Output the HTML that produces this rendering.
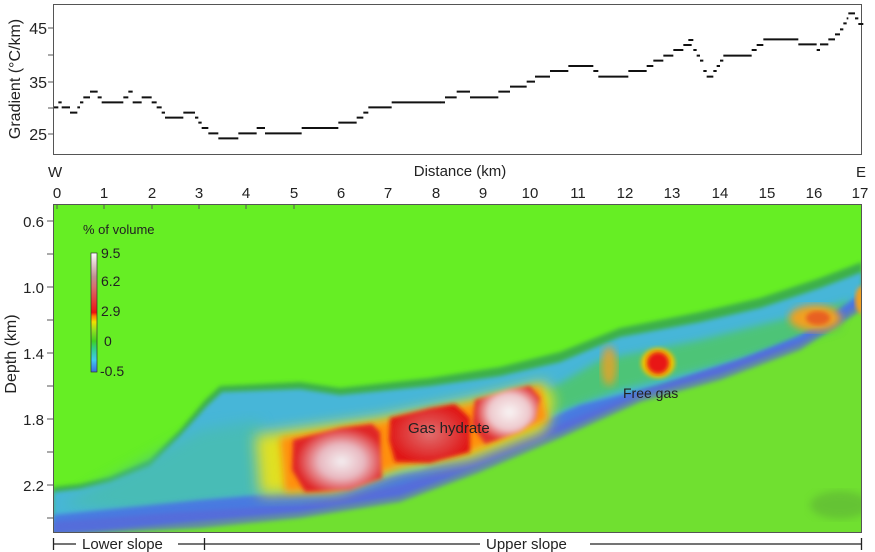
<!DOCTYPE html>
<html><head><meta charset="utf-8"><style>
html,body{margin:0;padding:0;background:#fff}
svg{display:block;font-family:"Liberation Sans",Arial,sans-serif}
</style></head><body>
<svg width="875" height="552" viewBox="0 0 875 552" xmlns="http://www.w3.org/2000/svg">
<defs>
<filter id="b2"><feGaussianBlur stdDeviation="2"/></filter>
<filter id="b4"><feGaussianBlur stdDeviation="4"/></filter>
<filter id="b7"><feGaussianBlur stdDeviation="7"/></filter>
<clipPath id="pc"><rect x="53" y="204" width="809" height="329"/></clipPath>
<linearGradient id="cb" x1="0" y1="1" x2="0" y2="0">
<stop offset="0" stop-color="#3a6ae0"/><stop offset="0.1" stop-color="#40c8f0"/><stop offset="0.2" stop-color="#30d080"/><stop offset="0.26" stop-color="#40d020"/>
<stop offset="0.35" stop-color="#90e020"/><stop offset="0.42" stop-color="#f0e000"/><stop offset="0.47" stop-color="#ff8000"/><stop offset="0.5" stop-color="#ee1010"/>
<stop offset="0.72" stop-color="#d87070"/><stop offset="0.8" stop-color="#c09090"/><stop offset="1" stop-color="#ffffff"/>
</linearGradient>
<radialGradient id="w1" cx="0.55" cy="0.55" r="0.5"><stop offset="0" stop-color="#f4eef0"/><stop offset="0.5" stop-color="#e8b8c0"/><stop offset="1" stop-color="#e02828"/></radialGradient>
<radialGradient id="w2" cx="0.5" cy="0.5" r="0.5"><stop offset="0" stop-color="#e07070"/><stop offset="1" stop-color="#e01818"/></radialGradient>
<radialGradient id="w3" cx="0.55" cy="0.45" r="0.5"><stop offset="0" stop-color="#f8f4f4"/><stop offset="0.6" stop-color="#eec8cc"/><stop offset="1" stop-color="#e03030"/></radialGradient>
</defs>

<!-- top chart -->
<rect x="53.5" y="4.5" width="808" height="150" fill="#fff" stroke="#555" stroke-width="1"/>
<g font-size="16" fill="#222" text-anchor="end">
<text x="47" y="34">45</text><text x="47" y="88">35</text><text x="47" y="140">25</text>
</g>
<g stroke="#555"><line x1="48" y1="28" x2="53" y2="28"/><line x1="48" y1="55" x2="53" y2="55"/><line x1="48" y1="82" x2="53" y2="82"/><line x1="48" y1="108" x2="53" y2="108"/><line x1="48" y1="134" x2="53" y2="134"/></g>
<text transform="translate(20,79) rotate(-90)" font-size="16" fill="#222" text-anchor="middle">Gradient (°C/km)</text>
<g transform="scale(0.33333)" stroke="#111" stroke-width="6" fill="none">
<path d="M162 322H175M175 307H185M185 322H210M210 338H232M232 322H240M240 307H250M250 292H270M270 275H293M293 292H305M305 307H370M370 292H385M385 275H398M398 307H425M425 292H455M455 307H470M470 322H485M485 338H495M495 353H550M550 338H585M585 353H595M595 368H605M605 384H625M625 400H655M655 415H715M715 400H770M770 384H795M795 400H905M905 384H1015M1015 368H1070M1070 353H1090M1090 338H1105M1105 322H1175M1175 307H1322"/>
</g>
<g transform="translate(440,0) scale(0.33333)" stroke="#111" stroke-width="6" fill="none">
<path d="M0 307H15M15 292H50M50 275H90M90 292H175M175 275H210M210 260H260M260 245H285M285 230H330M330 213H385M385 198H460M460 213H475M475 230H565M565 213H620M620 198H640M640 182H670M670 167H700M700 150H730M730 135H755M745 120H760M760 150H770M770 167H780M780 182H790M790 213H800M800 230H820M820 213H830M830 198H840M840 182H850M850 167H935M935 150H950M950 135H970M970 118H1075M1075 133H1130M1130 150H1140M1140 133H1165M1165 118H1185M1185 103H1200M1200 88H1210M1210 70H1220M1220 55H1225M1225 40H1245M1245 55H1255M1255 72H1270"/>
</g>

<!-- x axis labels -->
<g font-size="15" fill="#222">
<text x="48" y="177">W</text><text x="856" y="177">E</text>
<text x="460" y="176" text-anchor="middle">Distance (km)</text>
</g>
<g font-size="15" fill="#222" text-anchor="middle">
<text x="57" y="198">0</text><text x="104" y="198">1</text><text x="152" y="198">2</text><text x="199" y="198">3</text><text x="246" y="198">4</text><text x="294" y="198">5</text><text x="341" y="198">6</text><text x="388" y="198">7</text><text x="436" y="198">8</text><text x="483" y="198">9</text><text x="530" y="198">10</text><text x="578" y="198">11</text><text x="625" y="198">12</text><text x="672" y="198">13</text><text x="720" y="198">14</text><text x="767" y="198">15</text><text x="814" y="198">16</text><text x="860" y="198">17</text>
</g>

<!-- bottom panel -->
<g clip-path="url(#pc)">
<rect x="53" y="204" width="809" height="329" fill="#66ee24"/>
<!-- lower sediment base textured green -->
<polygon points="53,530 300,505 560,420 862,290 862,533 53,533" fill="#70e030"/>
<!-- dark edge of seafloor -->
<polygon points="53,487 80,484 110,477 150,460 180,430 205,400 220,386 300,382 340,388 430,378 500,367 560,352 620,328 700,312 760,298 820,278 862,262 862,300 800,340 720,370 640,392 560,428 480,462 400,492 300,508 200,518 100,528 53,533" fill="#3cb048" filter="url(#b2)"/>
<!-- cyan sediment -->
<polygon points="53,492 80,489 110,482 150,466 180,436 207,406 222,392 300,389 340,395 430,386 500,376 560,362 620,337 700,322 760,308 820,288 862,272 862,300 800,340 720,370 640,392 560,428 480,462 400,492 300,508 200,518 100,528 53,533" fill="#46b6d8" filter="url(#b2)"/>
<!-- greenish mid zones in sediment -->
<polygon points="60,505 200,430 260,420 260,500 150,515" fill="#48c0a0" opacity="0.6" filter="url(#b7)"/>
<polygon points="540,395 600,360 700,340 800,315 850,300 840,330 720,365 620,390 550,415" fill="#50c860" opacity="0.8" filter="url(#b4)"/>
<!-- blue base band -->
<polygon points="53,515 200,500 320,490 420,470 500,440 580,405 660,385 740,360 800,335 862,293 862,304 800,344 720,374 640,396 560,432 480,466 400,496 300,512 200,521 100,530 53,533" fill="#4a7ae0" filter="url(#b2)"/>
<polygon points="53,522 180,512 300,505 400,485 480,458 560,424 640,392 720,366 800,340 862,300 862,310 800,350 720,380 640,402 560,438 480,472 400,502 300,518 200,528 53,536" fill="#5a68d8" opacity="0.7" filter="url(#b2)"/>
<!-- yellow halo -->
<polygon points="255,435 380,418 470,400 545,382 555,400 545,432 470,460 400,470 340,492 260,495" fill="#e0e020" filter="url(#b7)"/>
<polygon points="280,438 380,422 470,404 540,386 548,420 470,452 400,466 330,490 285,492" fill="#ff9010" filter="url(#b4)"/>
<!-- red blobs -->
<polygon points="293,440 340,428 372,424 380,432 382,478 350,490 305,492 292,470" fill="url(#w1)" filter="url(#b2)"/>
<polygon points="390,418 430,408 455,404 470,418 470,452 430,463 395,462 389,440" fill="url(#w2)" filter="url(#b2)"/>
<polygon points="475,400 510,389 530,386 540,398 536,420 520,432 485,444 472,425" fill="url(#w3)" filter="url(#b2)"/>
<!-- free gas etc -->
<ellipse cx="658" cy="363" rx="17" ry="15" fill="#f0c000" filter="url(#b2)"/>
<ellipse cx="658" cy="363" rx="11" ry="11" fill="#e81818" filter="url(#b2)"/>
<ellipse cx="609" cy="366" rx="8" ry="20" fill="#f0a020" opacity="0.8" filter="url(#b4)"/>
<ellipse cx="815" cy="318" rx="26" ry="13" fill="#f0a020" filter="url(#b4)"/>
<ellipse cx="818" cy="318" rx="12" ry="7" fill="#e86020" filter="url(#b2)"/>
<ellipse cx="862" cy="300" rx="7" ry="14" fill="#f0a020" filter="url(#b2)"/>
<ellipse cx="840" cy="505" rx="30" ry="14" fill="#5aa838" opacity="0.5" filter="url(#b4)"/>
</g>
<rect x="53.5" y="204.5" width="808" height="328" fill="none" stroke="#555"/>
<g stroke="#555">
<line x1="57" y1="204" x2="57" y2="209"/><line x1="104" y1="204" x2="104" y2="209"/><line x1="152" y1="204" x2="152" y2="209"/><line x1="199" y1="204" x2="199" y2="209"/><line x1="246" y1="204" x2="246" y2="209"/><line x1="294" y1="204" x2="294" y2="209"/>
<line x1="47" y1="221" x2="53" y2="221"/><line x1="47" y1="254" x2="53" y2="254"/><line x1="47" y1="287" x2="53" y2="287"/><line x1="47" y1="320" x2="53" y2="320"/><line x1="47" y1="353" x2="53" y2="353"/><line x1="47" y1="386" x2="53" y2="386"/><line x1="47" y1="419" x2="53" y2="419"/><line x1="47" y1="452" x2="53" y2="452"/><line x1="47" y1="485" x2="53" y2="485"/><line x1="47" y1="518" x2="53" y2="518"/>
</g>
<g font-size="15" fill="#222" text-anchor="end">
<text x="44" y="227">0.6</text><text x="44" y="293">1.0</text><text x="44" y="359">1.4</text><text x="44" y="425">1.8</text><text x="44" y="491">2.2</text>
</g>
<text transform="translate(16,354) rotate(-90)" font-size="16" fill="#222" text-anchor="middle">Depth (km)</text>

<!-- legend -->
<text x="83" y="234" font-size="13" fill="#222">% of volume</text>
<rect x="91" y="253" width="6" height="119" fill="url(#cb)" stroke="#333" stroke-width="0.7"/>
<g font-size="14" fill="#222">
<text x="101" y="258">9.5</text><text x="101" y="286">6.2</text><text x="101" y="316">2.9</text><text x="104" y="346">0</text><text x="100" y="376">-0.5</text>
</g>
<text x="408" y="433" font-size="15" fill="#222">Gas hydrate</text>
<text x="623" y="398" font-size="14" fill="#222">Free gas</text>

<!-- slope bar -->
<g stroke="#222" stroke-width="1.3">
<line x1="53" y1="544" x2="76" y2="544"/><line x1="53.5" y1="538" x2="53.5" y2="550"/>
<line x1="178" y1="544" x2="480" y2="544"/><line x1="204.5" y1="538" x2="204.5" y2="550"/>
<line x1="590" y1="544" x2="862" y2="544"/><line x1="861.5" y1="538" x2="861.5" y2="550"/>
</g>
<g font-size="15" fill="#222">
<text x="82" y="549">Lower slope</text><text x="486" y="549">Upper slope</text>
</g>
</svg>
</body></html>
